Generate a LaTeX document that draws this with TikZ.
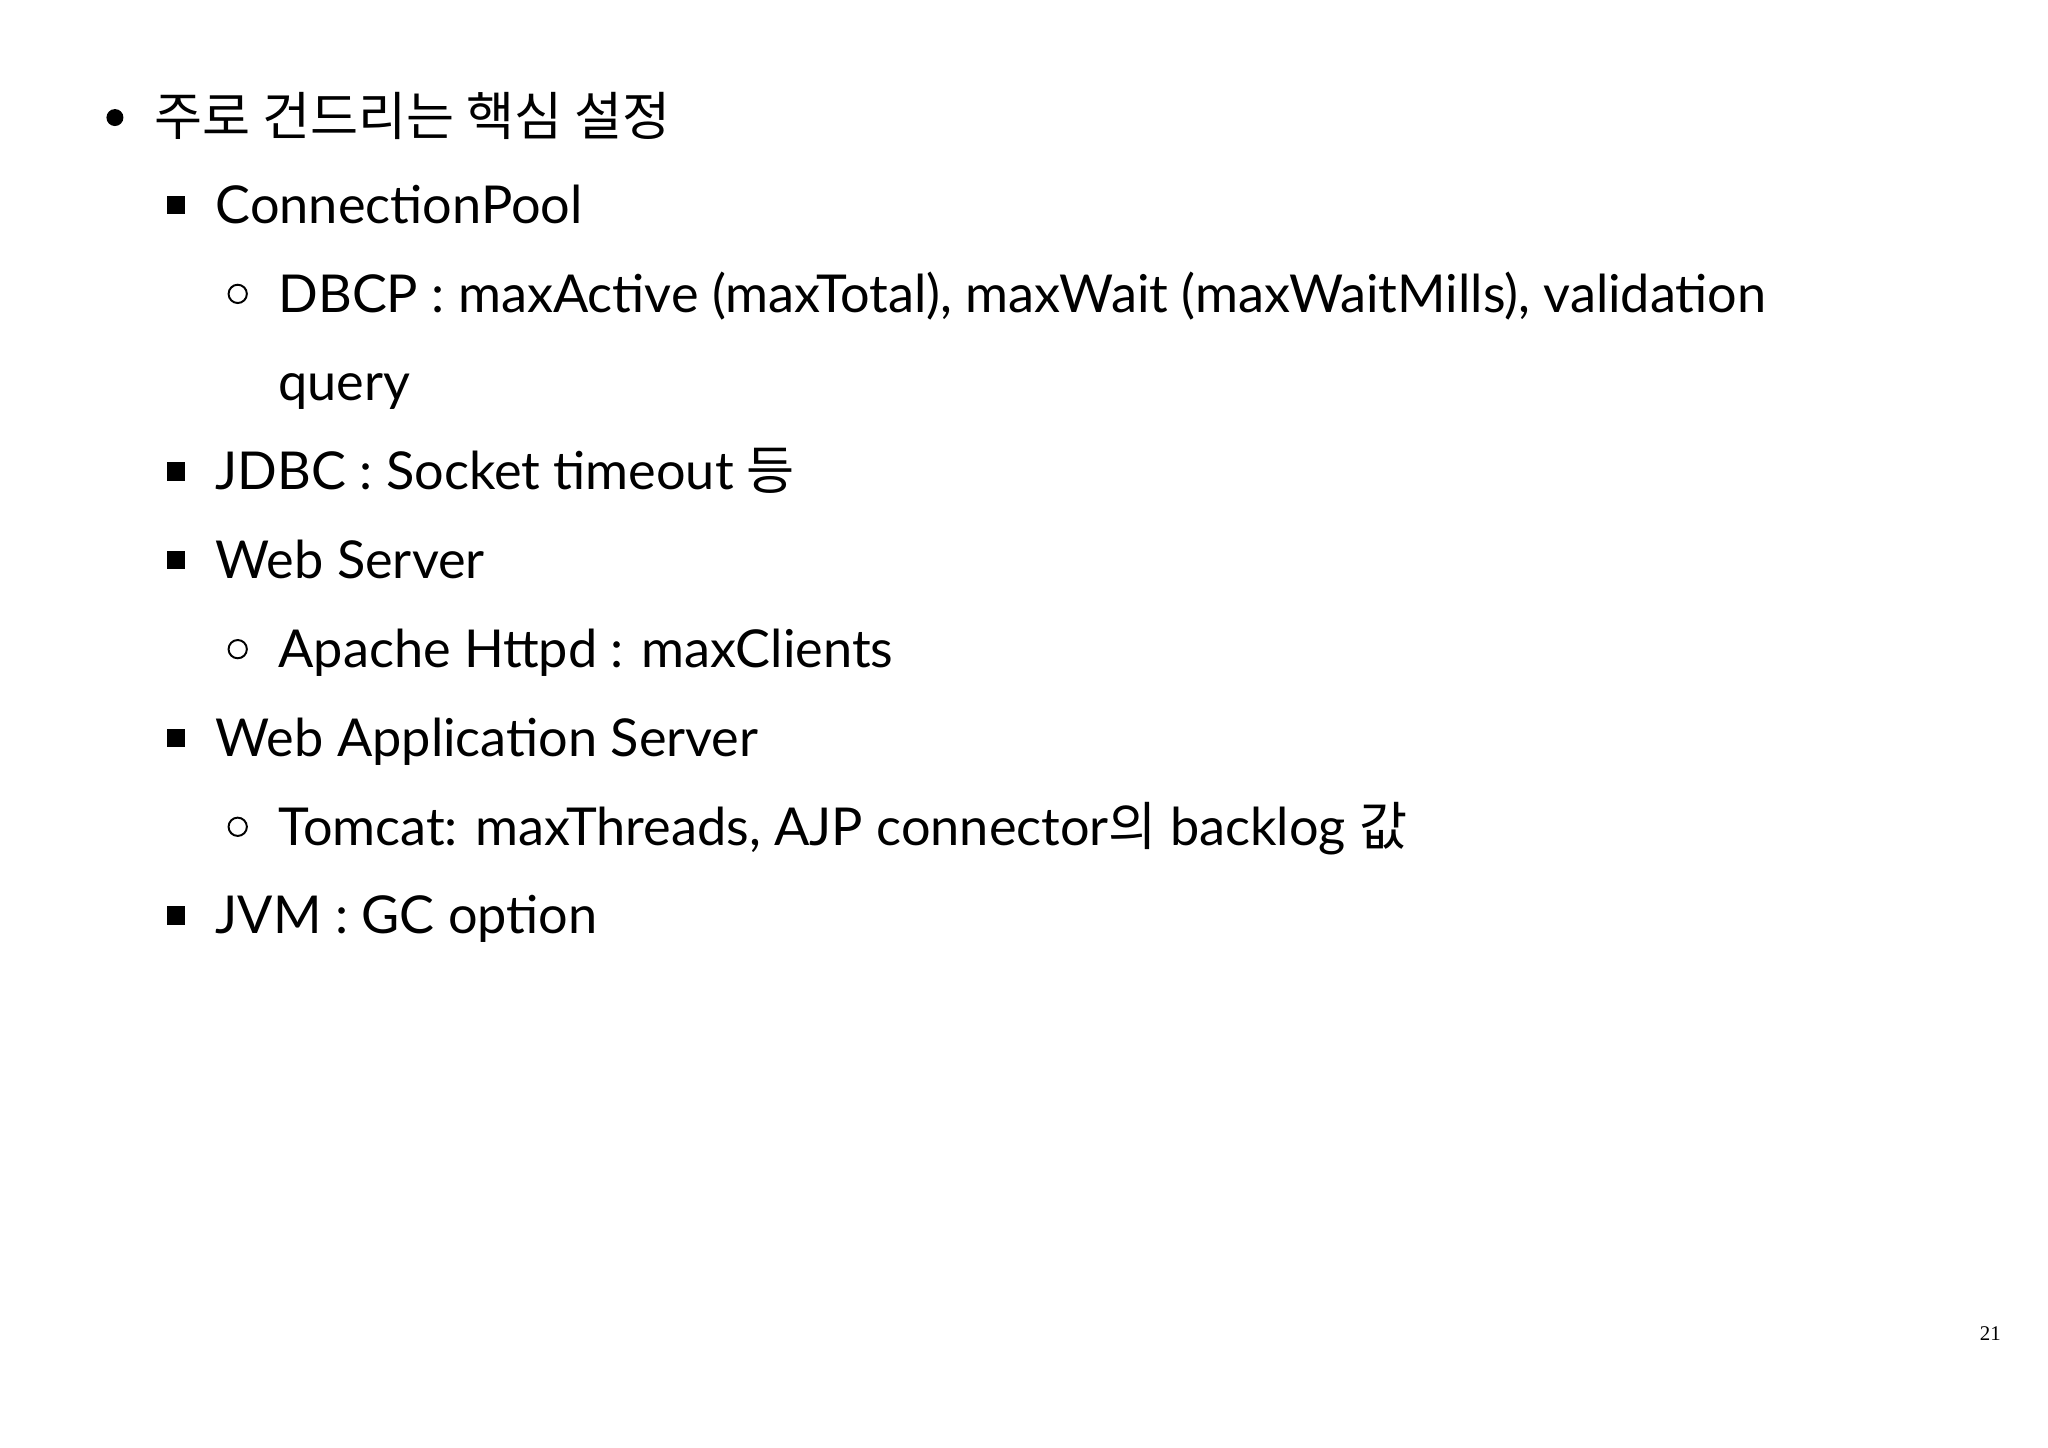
\documentclass[tikz,border=0pt]{standalone}
\usepackage{fontspec}
\setmainfont{Lato}
\newfontfamily\kr{Noto Sans CJK KR}
\newfontfamily\pgnum{Liberation Serif}
\begin{document}
\begin{tikzpicture}[x=1pt,y=-1pt,
  txt/.style={anchor=base west,inner sep=0pt,font=\fontsize{40}{48}\selectfont},
  sq/.style={fill=black,minimum size=14pt,inner sep=0pt},
  ci/.style={draw=black,line width=1.5pt,circle,minimum size=14pt,inner sep=0pt}]
\useasboundingbox (0,0) rectangle (1568,1108);
\node[fill=black,circle,minimum size=13pt,inner sep=0pt] (b0) at (88,90) {};
\node[txt] (t0) at (118,104) {\kr 주로 건드리는 핵심 설정};
\node[sq] (b1) at (135,157) {};
\node[txt] (t1) at (165,171) {ConnectionPool};
\node[ci] (b2) at (182,225) {};
\node[txt] (t2) at (213,239) {DBCP : maxActive (maxTotal), maxWait (maxWaitMills), validation};
\node[txt] (t2b) at (213,307) {query};
\node[sq] (b3) at (135,361) {};
\node[txt] (t3) at (165,375) {JDBC : Socket timeout {\kr 등}};
\node[sq] (b4) at (135,429) {};
\node[txt] (t4) at (165,443) {Web Server};
\node[ci] (b5) at (182,497) {};
\node[txt] (t5) at (213,511) {Apache Httpd : maxClients};
\node[sq] (b6) at (135,565) {};
\node[txt] (t6) at (165,579) {Web Application Server};
\node[ci] (b7) at (182,633) {};
\node[txt] (t7) at (213,647) {Tomcat: maxThreads, AJP connector{\kr 의} backlog {\kr 값}};
\node[sq] (b8) at (135,701) {};
\node[txt] (t8) at (165,715) {JVM : GC option};
\node[anchor=base east,inner sep=0pt,font=\pgnum\fontsize{16}{18}\selectfont] (pn) at (1532,1026) {21};
\end{tikzpicture}
\end{document}
